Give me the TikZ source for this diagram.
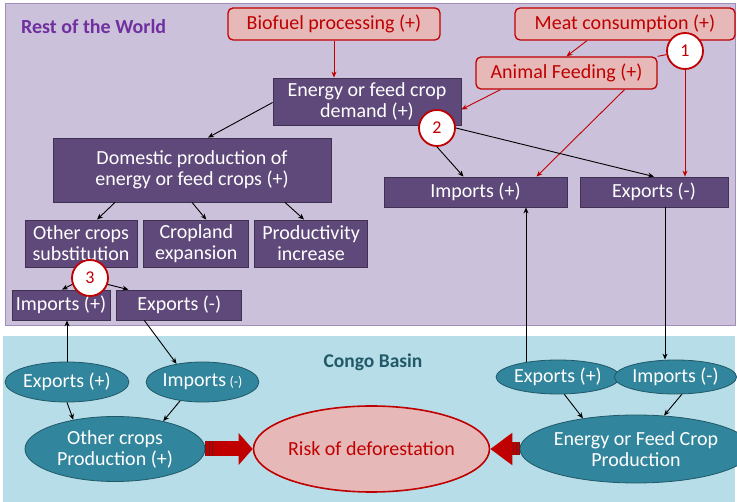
\documentclass[tikz,border=0pt]{standalone}
\usepackage{fontspec}
\setmainfont{Carlito}
\usepackage{tikz}
\usetikzlibrary{shapes.geometric, arrows.meta, positioning}
\definecolor{worldFill}{HTML}{CCC1DA}
\definecolor{worldBorder}{HTML}{A08DBA}
\definecolor{worldTitle}{HTML}{7030A0}
\definecolor{boxPurple}{HTML}{5F497A}
\definecolor{boxPurpleDark}{HTML}{3F3151}
\definecolor{pinkFill}{HTML}{E6B9B8}
\definecolor{redLine}{HTML}{C00000}
\definecolor{redDark}{HTML}{6A1A1A}
\definecolor{basinFill}{HTML}{B7DEE8}
\definecolor{tealFill}{HTML}{31859C}
\definecolor{tealDark}{HTML}{215968}

\begin{document}
\begin{tikzpicture}[x=1pt, y=-1pt,
  every node/.style={font=\fontsize{20}{21}\selectfont, align=center, inner sep=0pt},
  cropBox/.style={draw=boxPurpleDark, fill=boxPurple, text=white, line width=0.8pt, minimum height=47},
  tradeBox/.style={cropBox, minimum height=30},
  driverBox/.style={draw=redLine, fill=pinkFill, text=redLine, rounded corners=5pt, line width=1.3pt, minimum height=32},
  tealEll/.style={ellipse, draw=tealDark, fill=tealFill, text=white, line width=0.8pt},
  stepMark/.style={circle, draw=redLine, fill=white, text=redLine, line width=1.8pt, minimum size=36, font=\fontsize{18}{18}\selectfont},
  blackArr/.style={-{Stealth[length=6pt,width=5pt]}, line width=0.9pt},
  redArr/.style={-{Stealth[length=6pt,width=5pt]}, redLine, line width=0.9pt},
  bigArrow/.style={redLine, line width=15pt},
  tailStripe/.style={redDark, line width=15pt, dash pattern=on 0.9pt off 2.2pt}
]
  \useasboundingbox (0,0) rectangle (737,502);

  % the two regions
  \fill[basinFill] (3,336) rectangle (735,502);
  \draw[worldBorder, fill=worldFill, line width=0.8pt] (5,3) rectangle (735,325);
  \node[anchor=west, text=worldTitle, font=\fontsize{20}{20}\selectfont\bfseries] (worldLabel) at (21,27) {Rest of the World};
  \node[text=tealDark, font=\fontsize{19.5}{20}\selectfont\bfseries] (basinLabel) at (373,362) {Congo Basin};

  % rest of the world
  \node[driverBox, minimum width=212] (biofuel) at (334,24) {Biofuel processing (+)};
  \node[driverBox, minimum width=220] (meat) at (625,24) {Meat consumption (+)};
  \node[driverBox, minimum width=181] (animal) at (566.5,73) {Animal Feeding (+)};

  \node[cropBox, minimum width=188] (demand) at (367,101.5) {Energy or feed crop\\demand (+)};
  \node[cropBox, minimum width=278, minimum height=64] (domestic) at (192,170) {Domestic production of\\energy or feed crops (+)};

  \node[cropBox, minimum width=112] (otherSub) at (81,243.5) {Other crops\\substitution};
  \node[cropBox, minimum width=105, right=6pt of otherSub] (cropland) {Cropland\\expansion};
  \node[cropBox, minimum width=113, right=5pt of cropland] (productivity) {Productivity\\increase};

  \node[tradeBox, minimum width=98] (impL) at (61,305) {Imports (+)};
  \node[tradeBox, minimum width=125, right=6pt of impL] (expL) {Exports (-)};
  \node[tradeBox, minimum width=183] (impR) at (475.5,192) {Imports (+)};
  \node[tradeBox, minimum width=148] (expR) at (654,192) {Exports (-)};

  % congo basin
  \node[tealEll, minimum width=112, minimum height=40] (expLE) at (67,382) {Exports (+)};
  \node[tealEll, minimum width=105, minimum height=40] (impLE) at (202.5,382) {Imports\,{\fontsize{14}{14}\selectfont(-)}};
  \node[tealEll, minimum width=180, minimum height=65] (otherProd) at (115,449) {Other crops\\Production (+)};
  \node[ellipse, draw=redLine, fill=pinkFill, text=redLine, line width=1.6pt, minimum width=233, minimum height=86] (risk) at (371.5,449) {Risk of deforestation};
  \node[tealEll, minimum width=106, minimum height=34] (expRE) at (558,377) {Exports (+)};
  \node[tealEll, minimum width=105, minimum height=34] (impRE) at (675.5,377) {Imports (-)};
  \node[tealEll, minimum width=198, minimum height=68] (energyProd) at (636,449) {Energy or Feed Crop\\Production};

  % drivers
  \draw[redArr] (biofuel.south) -- (biofuel.south |- demand.north);
  \draw[redArr] ([xshift=-38]meat.south) -- (animal.north);
  \draw[redArr] ([xshift=-66]animal.south) -- ([yshift=-8]demand.east);
  \draw[redArr] ([xshift=58]animal.south) -- ([xshift=61]impR.north);

  % demand and supply
  \draw[blackArr] ([yshift=-1]demand.west) -- ([xshift=16]domestic.north);
  \draw[blackArr] ([xshift=-77]domestic.south) -- ([xshift=16]otherSub.north);
  \draw[blackArr] (domestic.south) -- ([xshift=10]cropland.north);
  \draw[blackArr] ([xshift=93]domestic.south) -- ([xshift=-7]productivity.north);

  % numbered steps
  \node[stepMark] (s1) at (685,51) {1};
  \node[stepMark] (s2) at (437,128) {2};
  \node[stepMark] (s3) at (90,278) {3};
  \draw[redLine, line width=0.9pt] (animal.north east) -- (s1);
  \draw[redArr] (s1.south) -- (s1.south |- expR.north);
  \draw[blackArr] (s2.south) -- ([xshift=-12]impR.north);
  \draw[blackArr] (s2.east) -- (expR.north);
  \draw[blackArr] (s3.200) -- ([xshift=1]impL.north);
  \draw[blackArr] (s3.340) -- ([xshift=12]expL.north west);

  % trade links between the regions
  \draw[blackArr] (expLE.north) -- (expLE.north |- impL.south);
  \draw[blackArr] ([xshift=-35]expL.south) -- (impLE.145);
  \draw[blackArr] (expLE.south) -- (otherProd.145);
  \draw[blackArr] (impLE.220) -- (otherProd.30);
  \draw[blackArr] (expRE.155) -- (expRE.155 |- impR.south);
  \draw[blackArr] ([xshift=11]expR.south) -- ([xshift=11]expR.south |- impRE.north);
  \draw[blackArr] (expRE.290) -- (energyProd.150);
  \draw[blackArr] (impRE.290) -- (energyProd.50);

  % pressure on forests
  \draw[bigArrow, -{Triangle[length=14pt,width=31pt]}] (otherProd.east) -- (risk.west);
  \draw[tailStripe] (otherProd.east) -- ++(8,0);
  \draw[bigArrow, line width=13pt, -{Triangle[length=22pt,width=31pt]}] (energyProd.west) -- (risk.east);
  \draw[tailStripe, line width=13pt] (energyProd.west) -- ++(-7,0);
\end{tikzpicture}
\end{document}
